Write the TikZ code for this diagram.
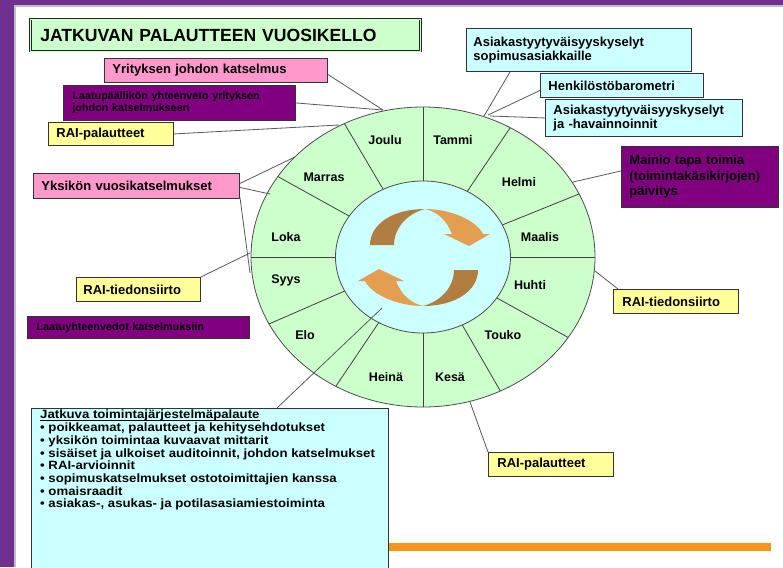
\documentclass[tikz,border=0pt]{standalone}
\usepackage{fontspec}
\setmainfont{Liberation Sans}
\newfontfamily\widesans[FakeStretch=1.1]{Liberation Sans}
\usetikzlibrary{calc}
\definecolor{framepurple}{RGB}{112,48,144}
\definecolor{lgreen}{RGB}{204,255,204}
\definecolor{lcyan}{RGB}{204,255,255}
\definecolor{lpink}{RGB}{255,153,204}
\definecolor{lyellow}{RGB}{255,255,153}
\definecolor{dpurple}{RGB}{128,0,128}
\definecolor{abrown}{RGB}{178,125,64}
\definecolor{aorange}{RGB}{227,158,82}
\definecolor{barorange}{RGB}{247,148,29}
\begin{document}
\begin{tikzpicture}[x=1pt,y=-1pt,
  box/.style={draw=black!80, line width=0.9pt, anchor=north west, inner xsep=8pt, inner ysep=0pt, align=left,
    font=\bfseries\fontsize{13}{14}\selectfont},
  smallbox/.style={box, font=\bfseries\fontsize{10.8}{12}\selectfont},
  conn/.style={draw=black!65, line width=0.8pt},
  wheelline/.style={draw=black!75, line width=0.8pt},
  month/.style={font=\bfseries\fontsize{12.5}{14}\selectfont, inner sep=0pt},
]
\useasboundingbox (0,0) rectangle (783,567);
\fill[white] (0,0) rectangle (783,567);
% frame
\fill[framepurple] (0,0) rectangle (14,567);
\fill[framepurple] (0,0) rectangle (783,5);
\draw[black!25, line width=1.5pt] (15,567) -- (15,6) -- (783,6);
% orange bar
\fill[barorange] (300,543) rectangle (771,551);
% bottom box
\node[box, fill=lcyan, minimum width=357, minimum height=162, inner sep=0pt] (bottom) at (31,408) {};
\node[anchor=north west, inner sep=0pt, align=left,
  font=\widesans\bfseries\fontsize{12}{12.7}\selectfont] (btxt) at (40,410)
  {\vphantom{Jj}\smash{\underline{\smash{Jatkuva toimintajärjestelmäpalaute}}}\\
   • poikkeamat, palautteet ja kehitysehdotukset\\
   • yksikön toimintaa kuvaavat mittarit\\
   • sisäiset ja ulkoiset auditoinnit, johdon katselmukset\\
   • RAI-arvioinnit\\
   • sopimuskatselmukset ostotoimittajien kanssa\\
   • omaisraadit\\
   • asiakas-, asukas- ja potilasasiamiestoiminta};
% wheel
\coordinate (c) at (423,257);
\fill[lgreen] (c) ellipse [x radius=172, y radius=150];
\begin{scope}
  \clip (c) ellipse [x radius=172, y radius=150];
  \foreach \a in {0,22,56,90,120.5,151,180,203.5,236,270,300,331}
    \draw[wheelline] (c) -- ++(-\a:220);
\end{scope}
\filldraw[fill=lcyan, draw=black!70, line width=0.8pt] (c) ellipse [x radius=87.5, y radius=76];
\draw[draw=black!70, line width=0.8pt] (c) ellipse [x radius=172, y radius=150];
% months
\node[month] (joulu) at (385,140) {Joulu};
\node[month] (tammi) at (453,140) {Tammi};
\node[month] (helmi) at (519,182) {Helmi};
\node[month] (maalis) at (540,237) {Maalis};
\node[month] (huhti) at (530,285) {Huhti};
\node[month] (touko) at (503,335) {Touko};
\node[month] (kesa) at (450,377) {Kesä};
\node[month] (heina) at (386,377) {Heinä};
\node[month] (elo) at (305,335) {Elo};
\node[month] (syys) at (286,280) {Syys};
\node[month] (loka) at (286,237) {Loka};
\node[month] (marras) at (324,177) {Marras};
% circular arrows
\begin{scope}
  \fill[abrown] (370,245) .. controls (370,224) and (393,209) .. (425,209)
     .. controls (406,214) and (394,229) .. (394,245) -- cycle;
  \fill[aorange] (425,209) .. controls (450,209) and (476,220) .. (483,234)
     -- (490,234) -- (469,246) -- (444,234) -- (452,234)
     .. controls (447,221) and (438,212) .. (425,209) -- cycle;
\end{scope}
\begin{scope}[rotate around={180:(424,257.5)}]
  \fill[abrown] (370,245) .. controls (370,224) and (393,209) .. (425,209)
     .. controls (406,214) and (394,229) .. (394,245) -- cycle;
  \fill[aorange] (425,209) .. controls (450,209) and (476,220) .. (483,234)
     -- (490,234) -- (469,246) -- (444,234) -- (452,234)
     .. controls (447,221) and (438,212) .. (425,209) -- cycle;
\end{scope}
% title
\node[box, fill=lgreen, draw=black!85, line width=0.6pt, double=lgreen, double distance=1.2pt,
  inner xsep=10pt, text width=370, minimum height=32,
  font=\bfseries\fontsize{17.6}{19}\selectfont] (title) at (30,19) {JATKUVAN PALAUTTEEN VUOSIKELLO};
% boxes left
\node[box, fill=lpink, text width=207, minimum height=24] (yjk) at (104,58) {Yrityksen johdon katselmus};
\node[smallbox, fill=dpurple, inner xsep=9pt, text width=214, minimum height=35] (laatu) at (63,85)
  {Laatupäällikön yhteenveto yrityksen\\johdon katselmukseen};
\node[box, fill=lyellow, text width=109, minimum height=23] (raiL) at (48,122) {RAI-palautteet};
\node[box, fill=lpink, text width=190, minimum height=25] (yks) at (33,173) {Yksikön vuosikatselmukset};
\node[box, fill=lyellow, inner xsep=7pt, text width=110, minimum height=24] (raiL2) at (76,277) {RAI-tiedonsiirto};
\node[smallbox, fill=dpurple, inner xsep=9pt, text width=204, minimum height=22] (laatuyht) at (27,316)
  {Laatuyhteenvedot katselmuksiin};
% boxes right
\node[box, fill=lcyan, inner xsep=7pt, text width=211, minimum height=43] (asiak1) at (466,28)
  {Asiakastyytyväisyyskyselyt\\sopimusasiakkaille};
\node[box, fill=lcyan, text width=147, minimum height=24] (henk) at (540,73) {Henkilöstöbarometri};
\node[box, fill=lcyan, text width=181, minimum height=37] (asiak2) at (545,99)
  {Asiakastyytyväisyyskyselyt\\ja -havainnoinnit};
\node[box, fill=dpurple, text width=141, minimum height=61, font=\bfseries\fontsize{13}{15.5}\selectfont] (mainio) at (621,146)
  {Mainio tapa toimia\\(toimintakäsikirjojen)\\päivitys};
\node[box, fill=lyellow, inner xsep=9pt, text width=107, minimum height=24] (raiR) at (613,289) {RAI-tiedonsiirto};
\node[box, fill=lyellow, inner xsep=9pt, text width=107, minimum height=24] (raiB) at (488,452) {RAI-palautteet};
% connector end points on the wheel
\coordinate (pJoulu) at (383,110);
\coordinate (pJoulu2) at (339,125);
\coordinate (pMarras) at (295,157);
\coordinate (pMarras2) at (270,194);
\coordinate (pSyys) at (250,273);
\coordinate (pLoka) at (250,253);
\coordinate (pInner) at (382,308);
\coordinate (pKesa) at (470,402);
\coordinate (pHuhti) at (595,271);
\coordinate (pHelmi) at (573,182);
\coordinate (pTammi) at (484,116);
\coordinate (pTammi2) at (488,115);
\coordinate (pTammi3) at (490,116);
% connectors
\draw[conn] ($(yjk.east)+(0,4)$) -- (pJoulu);
\draw[conn] (laatu.east) -- (pJoulu);
\draw[conn] (raiL.east) -- (pJoulu2);
\draw[conn] ($(yks.east)+(0,-2.5)$) -- (pMarras);
\draw[conn] ($(yks.east)+(0,1.5)$) -- (pMarras2);
\draw[conn] ($(yks.south east)+(0,-2)$) -- (pSyys);
\draw[conn] (raiL2.north east) -- (pLoka);
\draw[conn] ($(bottom.north west)+(246,0)$) -- (pInner);
\draw[conn] (raiB.north west) -- (pKesa);
\draw[conn] ($(raiR.north west)+(5,0)$) -- (pHuhti);
\draw[conn] ($(mainio.west)+(0,-6)$) -- (pHelmi);
\draw[conn] ($(asiak1.south west)+(44,0)$) -- (pTammi);
\draw[conn] ($(henk.west)+(0,5)$) -- (pTammi2);
\draw[conn] (asiak2.west) -- (pTammi3);
\end{tikzpicture}
\end{document}
